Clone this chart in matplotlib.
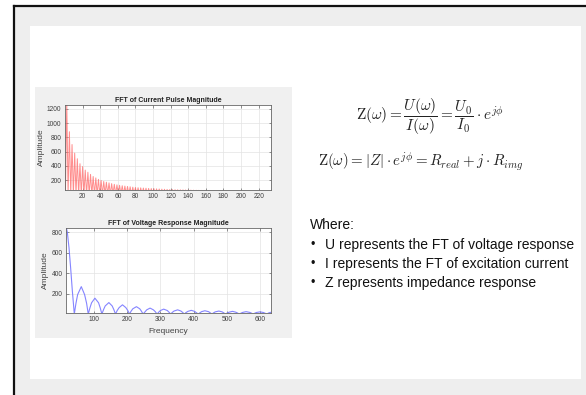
import matplotlib
matplotlib.use("Agg")
import matplotlib.pyplot as plt
from matplotlib.patches import Rectangle
from matplotlib.lines import Line2D

W, H = 586, 395

# ---------------- data ----------------
# Current pulse FFT: peak positions and amplitudes (troughs ~0 between peaks)
cur_peak_x = list(range(2, 234, 3))
cur_peak_y = [1300, 880, 700, 580, 500, 430, 390, 340, 310, 280,
              250, 230, 210, 195, 180, 170, 160, 150, 140, 132,
              126, 120, 115, 110, 105, 100, 96, 92, 90, 87,
              85, 82, 80, 78, 76, 74, 72, 70, 68, 67,
              66, 65, 64, 63, 62, 61, 60, 59, 58, 57,
              56, 55, 55, 54, 54, 53, 53, 52, 52, 51,
              51, 50, 50, 50, 49, 49, 49, 48, 48, 48,
              47, 47, 47, 46, 46, 46, 45, 45]
cur_trough_y = 0

# Voltage response FFT
volt_x = [16, 20, 25, 30, 35, 41,
          46, 51, 62, 72, 78, 83,
          88, 93, 103, 114, 119, 124,
          129, 134, 145, 155, 160, 165,
          170, 176, 186, 196, 202, 207,
          212, 217, 228, 238, 243, 248,
          254, 259, 269, 279, 285, 290,
          295, 300, 310, 321, 326, 331,
          336, 341, 352, 362, 367, 372,
          377, 383, 393, 403, 408, 414,
          419, 424, 434, 445, 450, 455,
          460, 465, 476, 486, 491, 496,
          501, 507, 517, 527, 532, 538,
          543, 548, 558, 569, 574, 579,
          584, 589, 600, 610, 615, 620,
          627, 633]
volt_y = [860, 800, 650, 450, 230, 0,
          105, 190, 268, 190, 105, 0,
          60, 110, 155, 110, 60, 0,
          43, 79, 112, 79, 43, 0,
          34, 63, 90, 63, 34, 0,
          28, 51, 72, 51, 28, 0,
          22, 41, 58, 41, 22, 0,
          18, 34, 48, 34, 18, 0,
          16, 29, 41, 29, 16, 0,
          14, 26, 36, 26, 14, 0,
          12, 23, 32, 23, 12, 0,
          11, 21, 29, 21, 11, 0,
          10, 18, 26, 18, 10, 0,
          9, 16, 23, 16, 9, 0,
          8, 15, 21, 15, 8, 0,
          12, 17]

top_xticks = [20, 40, 60, 80, 100, 120, 140, 160, 180, 200, 220]
top_yticks = [200, 400, 600, 800, 1000, 1200]
bot_xticks = [100, 200, 300, 400, 500, 600]
bot_yticks = [200, 400, 600, 800]

bullets = ["U represents the FT of voltage response",
           "I represents the FT of excitation current",
           "Z represents impedance response"]

# ---------------- figure ----------------
fig = plt.figure(figsize=(W / 100, H / 100), dpi=100)
fig.patch.set_facecolor("white")


def frect(x0, y0, x1, y1, **kw):
    """rectangle in pixel coords (top-left origin)"""
    r = Rectangle((x0 / W, 1 - y1 / H), (x1 - x0) / W, (y1 - y0) / H,
                  transform=fig.transFigure, **kw)
    fig.add_artist(r)


def fax(x0, y0, x1, y1):
    return fig.add_axes([x0 / W, 1 - y1 / H, (x1 - x0) / W, (y1 - y0) / H])


# slide background
frect(15, 7, W, H, facecolor="#eeeeee", edgecolor="none", zorder=0)
frect(30, 26, 581, 379, facecolor="white", edgecolor="none", zorder=0)
fig.add_artist(Line2D([13.5 / W, 1], [1 - 5.5 / H, 1 - 5.5 / H], transform=fig.transFigure,
                      color="#111111", lw=1.6))
fig.add_artist(Line2D([14 / W, 14 / W], [0, 1 - 5.5 / H], transform=fig.transFigure,
                      color="#111111", lw=1.6))
# MATLAB figure panel
frect(35, 87, 292, 338, facecolor="#f0f0f0", edgecolor="none", zorder=0)

tick_font = "Liberation Sans"


def style(ax):
    ax.set_facecolor("white")
    for s in ax.spines.values():
        s.set_color("#666666")
        s.set_linewidth(0.6)
    ax.tick_params(direction="in", length=1.8, width=0.5, colors="#666666",
                   labelsize=4.8, pad=2.5, top=True, right=True,
                   labelcolor="#404040")
    for lab in ax.get_xticklabels() + ax.get_yticklabels():
        lab.set_family(tick_font)
    ax.grid(True, color="#e3e3e3", lw=0.5)
    ax.set_axisbelow(True)


# top axes
ax1 = fax(65, 105, 271, 190)
xs, ys = [], []
for px, py in zip(cur_peak_x, cur_peak_y):
    xs += [px - 1.5, px]
    ys += [cur_trough_y, py]
ax1.plot(xs, ys, color="#ff7070", lw=0.7, alpha=0.8)
ax1.set_xlim(0, 234)
ax1.set_ylim(60, 1256)
ax1.set_xticks(top_xticks)
ax1.set_yticks(top_yticks)
style(ax1)
ax1.set_title("FFT of Current Pulse Magnitude", fontsize=5, fontweight="bold",
              family=tick_font, pad=2.5, color="#222222")
ax1.set_ylabel("Amplitude", fontsize=6, family=tick_font, color="#444444", labelpad=1.5)

# bottom axes
ax2 = fax(66, 228, 271, 313)
ax2.plot(volt_x, volt_y, color="#7777ff", lw=0.8, alpha=0.9)
ax2.set_xlim(16, 633)
ax2.set_ylim(10, 842)
ax2.set_xticks(bot_xticks)
ax2.set_yticks(bot_yticks)
style(ax2)
ax2.set_title("FFT of Voltage Response Magnitude", fontsize=5, fontweight="bold",
              family=tick_font, pad=2.5, color="#222222")
ax2.set_ylabel("Amplitude", fontsize=6, family=tick_font, color="#444444", labelpad=1.5)
ax2.set_xlabel("Frequency", fontsize=6, family=tick_font, color="#444444", labelpad=3)

# equations
plt.rcParams["mathtext.fontset"] = "cm"
fig.text(430 / W, 1 - 117 / H,
         r"$\mathrm{Z}(\omega) = \dfrac{U(\omega)}{I(\omega)} = \dfrac{U_0}{I_0}\cdot e^{j\phi}$",
         fontsize=11, ha="center", va="center", color="#222222")
fig.text(421 / W, 1 - 162 / H,
         r"$\mathrm{Z}(\omega) = |Z|\cdot e^{j\phi} = R_{real} + j\cdot R_{img}$",
         fontsize=10.8, ha="center", va="center", color="#222222")

# bullet text
txt_font = ["Liberation Sans Narrow", "Liberation Sans"]
fig.text(310 / W, 1 - 225 / H, "Where:", fontsize=10, family=txt_font,
         ha="left", va="center", color="#111111")
for i, b in enumerate(bullets):
    yy = 1 - (245 + i * 19) / H
    fig.text(313 / W, yy, "\u2022", fontsize=9, family=txt_font, ha="center",
             va="center", color="#111111")
    fig.text(325 / W, yy, b, fontsize=10, family=txt_font, ha="left",
             va="center", color="#111111")

fig.savefig("out.png", dpi=100)
